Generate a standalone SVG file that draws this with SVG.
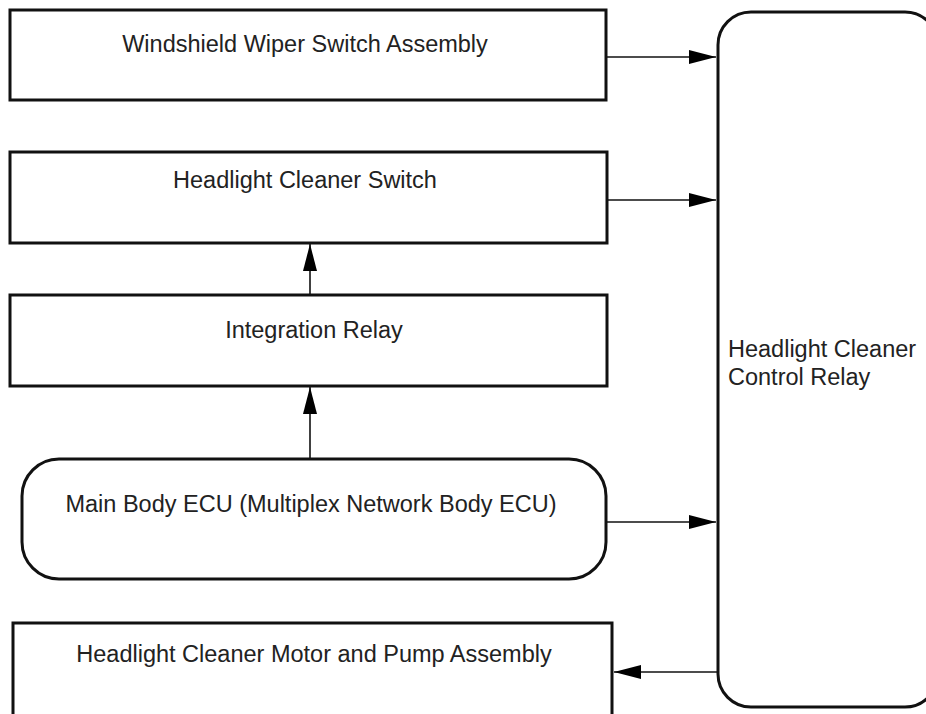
<svg xmlns="http://www.w3.org/2000/svg" width="926" height="714" viewBox="0 0 926 714">
<defs>
<style>
.box{fill:#fff;stroke:#111;stroke-width:3}
.lbl{font-family:"Liberation Sans",Arial,sans-serif;font-size:23.5px;fill:#222}
.mid{text-anchor:middle}
.conn{stroke:#111;stroke-width:1.6;fill:none}
</style>
<marker id="ah" viewBox="0 0 27 14" refX="27" refY="7" markerWidth="27" markerHeight="14" markerUnits="userSpaceOnUse" orient="auto" preserveAspectRatio="none">
<path d="M0,0 L27,7 L0,14 Z" fill="#000"/>
</marker>
</defs>
<rect width="926" height="714" fill="#fff"/>
<g id="wiper-switch">
<rect class="box" x="10" y="10" width="596" height="90"/>
<text class="lbl mid" x="305" y="52">Windshield Wiper Switch Assembly</text>
</g>
<g id="cleaner-switch">
<rect class="box" x="10" y="152" width="597" height="91"/>
<text class="lbl mid" x="305" y="188">Headlight Cleaner Switch</text>
</g>
<g id="integration-relay">
<rect class="box" x="10" y="295" width="597" height="91"/>
<text class="lbl mid" x="314" y="338">Integration Relay</text>
</g>
<g id="main-body-ecu">
<rect class="box" x="22" y="459" width="584" height="120" rx="37" ry="37"/>
<text class="lbl mid" x="311" y="512">Main Body ECU (Multiplex Network Body ECU)</text>
</g>
<g id="motor-pump">
<rect class="box" x="13" y="623" width="599" height="110"/>
<text class="lbl mid" x="314" y="662">Headlight Cleaner Motor and Pump Assembly</text>
</g>
<g id="control-relay">
<rect class="box" x="718" y="12" width="220" height="695" rx="33" ry="33"/>
<text class="lbl" x="728" y="357">Headlight Cleaner</text>
<text class="lbl" x="728" y="385">Control Relay</text>
</g>
<g id="connectors">
<line class="conn" x1="607" y1="57" x2="716" y2="57" marker-end="url(#ah)"/>
<line class="conn" x1="608" y1="200" x2="716" y2="200" marker-end="url(#ah)"/>
<line class="conn" x1="607" y1="522" x2="716" y2="522" marker-end="url(#ah)"/>
<line class="conn" x1="718" y1="672" x2="614" y2="672" marker-end="url(#ah)"/>
<line class="conn" x1="310" y1="458" x2="310" y2="387" marker-end="url(#ah)"/>
<line class="conn" x1="310" y1="294" x2="310" y2="244" marker-end="url(#ah)"/>
</g>
</svg>
